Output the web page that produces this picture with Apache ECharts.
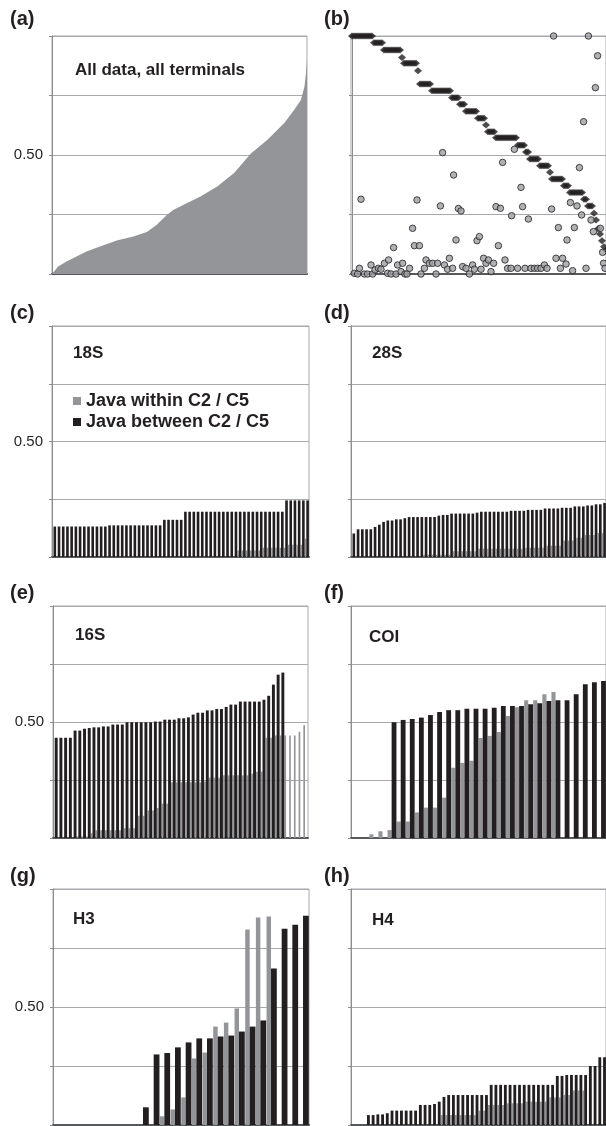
<!DOCTYPE html>
<html>
<head>
<meta charset="utf-8">
<title>Distance ratios by marker</title>
<script src="https://cdn.jsdelivr.net/npm/echarts/dist/echarts.min.js"></script>
<style>
  html, body { margin: 0; padding: 0; background: #fff; }
  #chart { width: 606px; height: 1126px; }
</style>
</head>
<body>
<div id="chart"></div>
<script>
// (a) all data, all terminals: sorted curve (rank in %, value)
const aRank = [0, 0.4, 2.4, 5.7, 9.6, 13.5, 18.8, 25.4, 31.9, 37.2, 41.1, 45.1, 47.7, 53.0, 58.2, 64.8, 71.4, 77.9, 84.5, 91.1, 95.0, 97.6, 99.0, 99.6, 100];
const aValue = [0, 0.004, 0.032, 0.053, 0.074, 0.095, 0.116, 0.141, 0.158, 0.176, 0.207, 0.249, 0.270, 0.298, 0.326, 0.368, 0.424, 0.505, 0.564, 0.634, 0.690, 0.731, 0.787, 0.843, 0.899];

// (b) diamonds: one per terminal, in rank order
const bDiamond = [
  1, 1, 1, 1, 1, 1, 1, 1, 1, 1, 1,
  0.972, 0.972, 0.972, 0.972, 0.972,
  0.941, 0.941, 0.941, 0.941, 0.941, 0.941, 0.941, 0.941, 0.941,
  0.910,
  0.885, 0.885, 0.885, 0.885, 0.885, 0.885, 0.885,
  0.854,
  0.798, 0.798, 0.798, 0.798, 0.798, 0.798,
  0.770, 0.770, 0.770, 0.770, 0.770, 0.770, 0.770, 0.770, 0.770, 0.770,
  0.741, 0.741, 0.741, 0.741,
  0.713, 0.713, 0.713,
  0.684, 0.684, 0.684, 0.684, 0.684, 0.684,
  0.654, 0.654, 0.654, 0.654,
  0.626,
  0.598, 0.598, 0.598, 0.598,
  0.573, 0.573, 0.573, 0.573, 0.573, 0.573, 0.573, 0.573, 0.573, 0.573, 0.573,
  0.541, 0.541, 0.541, 0.541,
  0.513, 0.513,
  0.483, 0.483, 0.483, 0.483, 0.483,
  0.455, 0.455, 0.455, 0.455, 0.455,
  0.427,
  0.399, 0.399, 0.399, 0.399, 0.399, 0.399,
  0.371, 0.371, 0.371,
  0.342, 0.342, 0.342, 0.342, 0.342, 0.342, 0.342,
  0.314, 0.314,
  0.286, 0.286, 0.286,
  0.255, 0.227, 0.190, 0.168, 0.140, 0.115, 0.100
];
// (b) circles: [rank, value]
const bCircle = [
  [1.2, 0.003], [2.8, 0], [3.7, 0.024], [6.2, 0], [7.8, 0], [9.5, 0.038], [10.3, 0], [11.5, 0.017],
  [13.2, 0.024], [14.5, 0.020], [16.2, 0.045], [17.8, 0.003], [18.3, 0.059], [19.5, 0], [22, 0],
  [22.8, 0.038], [24.5, 0.010], [25.3, 0.045], [26.5, 0], [27.5, 0], [28.8, 0.024], [34.5, 0],
  [36.2, 0.024], [37, 0.059], [38.7, 0.045], [40.3, 0.045], [42, 0], [42.8, 0.045], [46.2, 0.038],
  [47.8, 0.020], [48.7, 0.066], [50.3, 0.024], [55.3, 0.031], [57, 0.024], [58.7, 0], [60.3, 0.038],
  [61.2, 0.020], [64.5, 0.020], [65.8, 0.066], [67, 0.045], [68.2, 0.059], [69.5, 0.010],
  [70.8, 0.045], [76.5, 0.059], [77.8, 0.024], [79.5, 0.024], [82.8, 0.024], [86.5, 0.024],
  [89.5, 0.024], [91.2, 0.024], [92.8, 0.024], [94.5, 0.024], [96.2, 0.038], [97.5, 0.024],
  [102, 0.066], [105.3, 0.066], [104.2, 0.024], [107, 0.042], [110.3, 0.014], [117, 0.024],
  [100.8, 1.0], [118.2, 1.0], [122.8, 0.917], [121.7, 0.783], [115.8, 0.640], [45.3, 0.510],
  [81.2, 0.524], [75.3, 0.469], [113.7, 0.447], [50.8, 0.416], [84.5, 0.364], [4.5, 0.314],
  [32.5, 0.311], [44.2, 0.286], [53.2, 0.275], [54.5, 0.265], [72, 0.283], [74.2, 0.276],
  [85.3, 0.283], [79.8, 0.245], [109.2, 0.300], [112.5, 0.286], [99.8, 0.273], [114.8, 0.248],
  [88.2, 0.231], [119.5, 0.227], [124.2, 0.192], [120.7, 0.178], [30.3, 0.192], [103.2, 0.195],
  [111.2, 0.195], [20.8, 0.111], [31.2, 0.119], [33.7, 0.119], [52, 0.143], [62.5, 0.140],
  [63.7, 0.157], [73.2, 0.119], [107.5, 0.143], [125.3, 0.091], [125.8, 0.045], [126.5, 0.024]
];

// (c) 18S
const cWithin = [
  0, 0, 0, 0, 0, 0, 0, 0, 0, 0, 0, 0, 0, 0, 0, 0, 0, 0, 0, 0, 0, 0,
  0, 0, 0, 0, 0, 0, 0, 0, 0, 0, 0, 0, 0, 0, 0, 0, 0, 0, 0, 0, 0, 0,
  0.028, 0.028, 0.028, 0.028, 0.028, 0.028,
  0.040, 0.040, 0.040, 0.040, 0.040, 0.040,
  0.053, 0.053, 0.053, 0.053, 0.079
];
const cBetween = [
  0.132, 0.132, 0.132, 0.132, 0.132, 0.132, 0.132, 0.132, 0.132, 0.132, 0.132, 0.132, 0.132,
  0.137, 0.137, 0.137, 0.137, 0.137, 0.137, 0.137, 0.137, 0.137, 0.137, 0.137, 0.137, 0.137,
  0.161, 0.161, 0.161, 0.161, 0.161,
  0.196, 0.196, 0.196, 0.196, 0.196, 0.196, 0.196, 0.196, 0.196, 0.196, 0.196, 0.196,
  0.196, 0.196, 0.196, 0.196, 0.196, 0.196, 0.196, 0.196, 0.196, 0.196, 0.196, 0.196,
  0.245, 0.245, 0.245, 0.245, 0.245, 0.245
];

// (d) 28S
const dWithin = [
  0, 0, 0, 0, 0, 0, 0, 0, 0, 0, 0, 0, 0, 0, 0, 0, 0,
  0.010, 0.010, 0.010, 0.010, 0.010, 0.010, 0.010,
  0.025, 0.025, 0.025, 0.025, 0.025, 0.025,
  0.036, 0.036, 0.036, 0.036, 0.036, 0.036, 0.036, 0.036, 0.036, 0.036, 0.036,
  0.040, 0.040, 0.040, 0.040, 0.040,
  0.049, 0.049, 0.049, 0.049,
  0.071, 0.071, 0.071, 0.083, 0.083,
  0.095, 0.095, 0.095, 0.104, 0.104
];
const dBetween = [
  0.102, 0.120, 0.120, 0.120, 0.120, 0.130, 0.140, 0.152, 0.158, 0.158, 0.163, 0.163, 0.168,
  0.173, 0.173, 0.173, 0.173, 0.173, 0.173, 0.173, 0.179, 0.182, 0.182,
  0.188, 0.188, 0.188, 0.188, 0.188, 0.188, 0.192,
  0.196, 0.196, 0.196, 0.196, 0.196, 0.196, 0.196,
  0.200, 0.200, 0.200, 0.200, 0.204, 0.204, 0.204, 0.204,
  0.210, 0.210, 0.210, 0.210, 0.213, 0.213, 0.213,
  0.219, 0.219, 0.219, 0.223, 0.223, 0.228, 0.228, 0.234
];

// (e) 16S
const eWithin = [
  0, 0, 0, 0, 0, 0.007, 0.007, 0.007, 0.020,
  0.033, 0.033, 0.033, 0.033, 0.033, 0.033, 0.042, 0.042, 0.042,
  0.096, 0.096, 0.119, 0.119, 0.129, 0.148, 0.148,
  0.240, 0.240, 0.240, 0.240, 0.240, 0.240, 0.240, 0.244,
  0.260, 0.260, 0.260, 0.270, 0.270, 0.270, 0.270, 0.270, 0.270, 0.277, 0.286, 0.286,
  0.432, 0.432, 0.442, 0.442, 0.442, 0.442, 0.442, 0.458, 0.486
];
const eBetween = [
  0.432, 0.432, 0.432, 0.432, 0.463, 0.463, 0.471, 0.474, 0.477, 0.477, 0.481, 0.481,
  0.489, 0.489, 0.489, 0.499, 0.499, 0.499, 0.499, 0.499, 0.499, 0.502, 0.502,
  0.510, 0.510, 0.510, 0.516, 0.516, 0.520, 0.532, 0.540, 0.540, 0.550, 0.550,
  0.556, 0.556, 0.565, 0.575, 0.575, 0.588, 0.588, 0.588, 0.588, 0.588,
  0.596, 0.613, 0.661, 0.704, 0.713, 0, 0, 0, 0, 0
];

// (f) COI
const fWithin = [
  0, 0, 0.016, 0.029, 0.034, 0.071, 0.071, 0.110, 0.131, 0.131, 0.174, 0.303, 0.324, 0.333,
  0.431, 0.440, 0.457, 0.526, 0.564, 0.594, 0.594, 0.620, 0.629, 0, 0, 0, 0, 0
];
const fBetween = [
  0, 0, 0, 0, 0.499, 0.509, 0.513, 0.519, 0.530, 0.543, 0.551, 0.551, 0.557, 0.557,
  0.557, 0.561, 0.569, 0.569, 0.569, 0.577, 0.581, 0.590, 0.594, 0.594, 0.620, 0.663, 0.671, 0.677
];

// (g) H3
const gWithin = [
  0, 0, 0, 0, 0, 0, 0, 0, 0, 0, 0.037, 0.066, 0.117, 0.282, 0.307, 0.417, 0.434, 0.494,
  0.828, 0.879, 0.883, 0, 0, 0
];
const gBetween = [
  0, 0, 0, 0, 0, 0, 0, 0, 0.075, 0.299, 0.305, 0.329, 0.350, 0.367, 0.367, 0.375, 0.379,
  0.396, 0.417, 0.443, 0.663, 0.832, 0.849, 0.887
];

// (h) H4
const hWithin = [
  0, 0, 0, 0, 0, 0, 0, 0, 0, 0, 0, 0, 0, 0, 0, 0, 0, 0, 0,
  0.042, 0.042, 0.042, 0.042, 0.042, 0.042, 0.042, 0.042, 0.061, 0.061,
  0.085, 0.085, 0.085, 0.085, 0.092, 0.092, 0.092, 0.092,
  0.099, 0.099, 0.099, 0.099, 0.099, 0.117, 0.117, 0.117, 0.127, 0.127,
  0.146, 0.146, 0.146, 0, 0, 0, 0
];
const hBetween = [
  0, 0, 0, 0.042, 0.042, 0.045, 0.045, 0.050, 0.061, 0.061, 0.061, 0.061, 0.061, 0.061,
  0.085, 0.085, 0.085, 0.089, 0.099, 0.119,
  0.127, 0.127, 0.127, 0.127, 0.127, 0.127, 0.127, 0.127, 0.127,
  0.170, 0.170, 0.170, 0.170, 0.170, 0.170, 0.170, 0.170, 0.170, 0.170, 0.170, 0.170, 0.170, 0.170,
  0.208, 0.208, 0.212, 0.212, 0.212, 0.212, 0.212, 0.250, 0.250, 0.287, 0.287
];

const FONT = '"Liberation Sans", Arial, sans-serif';
const INK = '#231f20';
const GREY = '#939598';
const WITHIN = 'Java within C2 / C5';
const BETWEEN = 'Java between C2 / C5';

// panel layout: grid box, label position, inner title
const panels = [
  { id: 'a', grid: [52, 36, 255, 238], label: [10, 19], title: 'All data, all terminals', tpos: [75, 70] },
  { id: 'b', grid: [351, 36, 256, 238], label: [324, 19] },
  { id: 'c', grid: [52, 326, 257, 231], label: [10, 313], title: '18S', tpos: [73, 353], within: cWithin, between: cBetween, w: ['33%', '62%'] },
  { id: 'd', grid: [351, 326, 256, 231], label: [324, 313], title: '28S', tpos: [372, 353], within: dWithin, between: dBetween, w: ['33%', '62%'] },
  { id: 'e', grid: [53, 606, 255, 232], label: [10, 593], title: '16S', tpos: [75, 635], within: eWithin, between: eBetween, w: ['35%', '62%'] },
  { id: 'f', grid: [351, 606, 256, 232], label: [324, 593], title: 'COI', tpos: [369, 637], within: fWithin, between: fBetween, w: ['45%', '53%'] },
  { id: 'g', grid: [53, 889, 256, 236], label: [10, 876], title: 'H3', tpos: [73, 919], within: gWithin, between: gBetween, w: ['42%', '54%'] },
  { id: 'h', grid: [351, 889, 256, 236], label: [324, 876], title: 'H4', tpos: [372, 920], within: hWithin, between: hBetween, w: ['37%', '60%'] }
];

const grid = [];
const xAxis = [];
const yAxis = [];
const series = [];
const graphic = [];

panels.forEach((p, i) => {
  const leftCol = p.grid[0] < 200;
  grid.push({
    left: p.grid[0], top: p.grid[1], width: p.grid[2], height: p.grid[3],
    show: true, borderColor: '#a7a9ac', borderWidth: 1
  });
  yAxis.push({
    gridIndex: i, type: 'value', min: 0, max: 1, interval: 0.25,
    axisLine: { show: true, lineStyle: { color: '#8a8c8e', width: 1 } },
    axisTick: { show: true, length: 3, lineStyle: { color: '#8a8c8e' } },
    splitLine: { show: true, lineStyle: { color: '#a7a9ac', width: 1 } },
    axisLabel: {
      show: leftCol, margin: 9, fontSize: 15, color: INK, fontFamily: FONT,
      formatter: (v) => (Math.abs(v - 0.5) < 1e-9 ? '0.50' : '')
    }
  });
  const xLine = { show: true, lineStyle: { color: '#58595b', width: 2 } };
  if (p.id === 'a') {
    xAxis.push({ gridIndex: i, type: 'value', min: 0, max: 100, axisLine: xLine,
      axisTick: { show: false }, axisLabel: { show: false }, splitLine: { show: false } });
    series.push({
      type: 'line', xAxisIndex: i, yAxisIndex: i, symbol: 'none', silent: true,
      lineStyle: { width: 0 }, areaStyle: { color: GREY, opacity: 1 },
      data: aRank.map((r, k) => [r, aValue[k]])
    });
  } else if (p.id === 'b') {
    xAxis.push({ gridIndex: i, type: 'value', min: -0.5, max: 127, axisLine: xLine,
      axisTick: { show: false }, axisLabel: { show: false }, splitLine: { show: false } });
    series.push({
      type: 'scatter', xAxisIndex: i, yAxisIndex: i, clip: false, silent: true,
      symbol: 'diamond', symbolSize: [8, 7], itemStyle: { color: INK },
      data: bDiamond.map((v, k) => [k, v])
    });
    series.push({
      type: 'scatter', xAxisIndex: i, yAxisIndex: i, clip: false, silent: true,
      symbol: 'circle', symbolSize: 6.5,
      itemStyle: { color: '#9d9fa2', borderColor: INK, borderWidth: 1 },
      data: bCircle
    });
  } else {
    xAxis.push({
      gridIndex: i, type: 'category', data: p.between.map((_, k) => k + 1),
      axisLine: xLine, axisTick: { show: false }, axisLabel: { show: false }, splitLine: { show: false }
    });
    series.push({
      name: WITHIN, type: 'bar', xAxisIndex: i, yAxisIndex: i, silent: true,
      barWidth: p.w[0], barGap: '0%', itemStyle: { color: GREY }, data: p.within
    });
    series.push({
      name: BETWEEN, type: 'bar', xAxisIndex: i, yAxisIndex: i, silent: true,
      barWidth: p.w[1], barGap: '0%', itemStyle: { color: INK }, data: p.between
    });
  }
  graphic.push({
    type: 'text', x: p.label[0], y: p.label[1], z: 10,
    style: { text: '(' + p.id + ')', fill: INK, font: 'bold 20px ' + FONT, verticalAlign: 'middle' }
  });
  if (p.title) {
    graphic.push({
      type: 'text', x: p.tpos[0], y: p.tpos[1], z: 10,
      style: { text: p.title, fill: INK, font: 'bold 17px ' + FONT, verticalAlign: 'middle' }
    });
  }
});

const chart = echarts.init(document.getElementById('chart'), null, { renderer: 'canvas' });
chart.setOption({
  backgroundColor: '#fff',
  animation: false,
  grid: grid,
  xAxis: xAxis,
  yAxis: yAxis,
  legend: {
    left: 73, top: 392, orient: 'vertical', padding: 0,
    itemWidth: 8, itemHeight: 8, itemGap: 3, icon: 'rect', selectedMode: false,
    data: [WITHIN, BETWEEN],
    textStyle: { fontSize: 18, fontWeight: 'bold', color: INK, fontFamily: FONT, padding: [0, 0, 0, 0] }
  },
  graphic: graphic,
  series: series
});
</script>
</body>
</html>
